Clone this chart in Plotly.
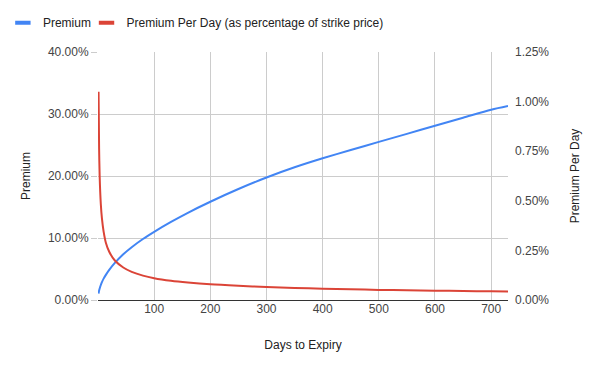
import plotly.graph_objects as go

days = [1, 2, 3, 5, 7, 10, 14, 20, 30, 45, 60, 80, 100, 130, 160, 200, 250,
        300, 350, 400, 450, 500, 550, 600, 650, 700, 730]
premium = [1.05, 1.52, 1.86, 2.42, 2.88, 3.45, 4.05, 4.85, 5.98, 7.38, 8.52,
           9.84, 11.0, 12.6, 14.07, 15.85, 17.9, 19.75, 21.4, 22.85, 24.2,
           25.5, 26.8, 28.1, 29.4, 30.7, 31.3]
premium_per_day = [1.05, 0.76, 0.62, 0.484, 0.411, 0.345, 0.289, 0.243, 0.199,
                   0.164, 0.142, 0.123, 0.11, 0.097, 0.088, 0.079, 0.0716,
                   0.0658, 0.0611, 0.0571, 0.0538, 0.051, 0.0487, 0.0468,
                   0.0452, 0.0439, 0.0429]
x_ticks = [100, 200, 300, 400, 500, 600, 700]
series_names = ["Premium", "Premium Per Day (as percentage of strike price)"]

FONT = "Liberation Sans, Arial, sans-serif"
BLUE = "#4285F4"
RED = "#DB4437"

fig = go.Figure()
fig.add_trace(go.Scatter(x=days, y=premium, mode="lines", name=series_names[0],
                         showlegend=False,
                         line=dict(color=BLUE, width=2, shape="spline", smoothing=0.8)))
fig.add_trace(go.Scatter(x=days, y=premium_per_day, mode="lines",
                         name=series_names[1], yaxis="y2", showlegend=False,
                         line=dict(color=RED, width=2, shape="spline", smoothing=0.8)))
# legend entries with short thick dash symbols (two legends for exact placement)
for nm, col, lg in zip(series_names, [BLUE, RED], ["legend", "legend2"]):
    fig.add_trace(go.Scatter(x=[None], y=[None], mode="markers", name=nm,
                             legend=lg,
                             marker=dict(symbol="line-ew-open", size=11, color=col,
                                         line=dict(color=col, width=4))))

leg_common = dict(orientation="h", xanchor="left", yanchor="middle", y=1.118,
                  font=dict(size=12, color="#222222"), itemwidth=30,
                  bgcolor="rgba(0,0,0,0)")

fig.update_layout(
    width=600, height=371,
    margin=dict(l=98, r=92, t=52, b=71, autoexpand=False),
    paper_bgcolor="white", plot_bgcolor="white",
    font=dict(family=FONT, size=12, color="#222222"),
    showlegend=True,
    legend=dict(x=-0.232, **leg_common),
    legend2=dict(x=-0.028, **leg_common),
    xaxis=dict(range=[0, 730], tickvals=x_ticks, showgrid=True,
               gridcolor="#cccccc", gridwidth=1, zeroline=False,
               showline=False, ticks="", automargin=False,
               tickfont=dict(size=12, color="#444444"),
               title=dict(text="Days to Expiry", standoff=25,
                          font=dict(size=12, color="#222222"))),
    yaxis=dict(range=[0, 40], dtick=10, tickformat=".2f", ticksuffix="%",
               showgrid=True, gridcolor="#cccccc", zeroline=True,
               zerolinecolor="#333333", zerolinewidth=1, showline=False,
               ticks="outside", ticklen=6, tickcolor="#cccccc", automargin=False,
               tickfont=dict(size=12, color="#444444"),
               title=dict(text="Premium", standoff=14,
                          font=dict(size=12, color="#222222"))),
    yaxis2=dict(range=[0, 1.25], dtick=0.25, tickformat=".2f", ticksuffix="%",
                overlaying="y", side="right", showgrid=False, zeroline=False,
                showline=False, ticks="", ticklabelstandoff=6, automargin=False,
                tickfont=dict(size=12, color="#444444"),
                title=dict(text="Premium Per Day", standoff=22,
                           font=dict(size=12, color="#222222"))),
)

fig.write_html("out.html")
